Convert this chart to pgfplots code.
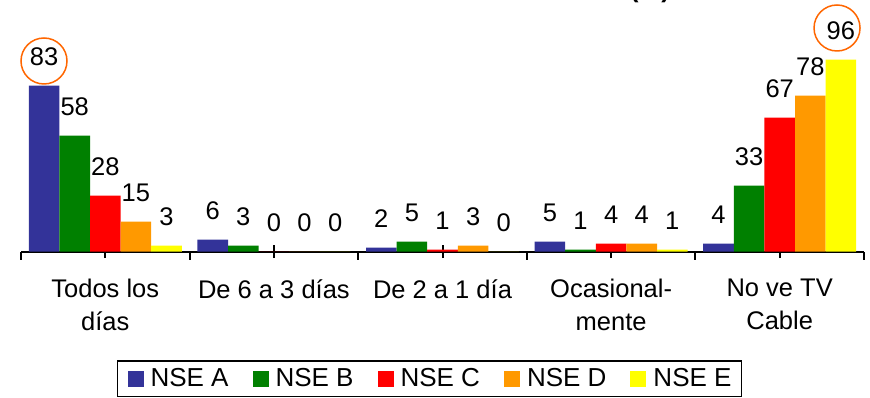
\documentclass[border=0pt]{standalone}
\usepackage{pgfplots}
\pgfplotsset{compat=1.18}
\usepackage{pgfplotstable}
\usepackage{fontspec}
\setmainfont{Liberation Sans}

\definecolor{nseA}{HTML}{333399}
\definecolor{nseB}{HTML}{008000}
\definecolor{nseC}{HTML}{FF0000}
\definecolor{nseD}{HTML}{FF9900}
\definecolor{nseE}{HTML}{FFFF00}
\definecolor{circ}{HTML}{FF6600}

\newcommand\fs{\fontsize{25.5}{33}\selectfont}

% frecuencia por NSE (%)
\pgfplotstableread{
g A  B  C  D  E
0 83 58 28 15 3
1 6  3  0  0  0
2 2  5  1  3  0
3 5  1  4  4  1
4 4  33 67 78 96
}\datos

\begin{document}
\begin{tikzpicture}
\useasboundingbox (-21pt,-146.3pt) rectangle (849pt,251.7pt);
\begin{axis}[
  at={(0pt,0pt)}, anchor=south west,
  scale only axis, width=843pt, height=240pt,
  xmin=-0.5, xmax=4.5, ymin=0, ymax=120,
  ybar=0pt, bar width=30.6pt,
  axis x line=bottom, axis y line=none,
  x axis line style={-, line width=2pt},
  ytick=\empty,
  xtick={0,...,4},
  xticklabels={{Todos los\\días},{De 6 a 3 días},{De 2 a 1 día},{Ocasional-\\mente},{No ve TV\\Cable}},
  xticklabel style={align=center, font=\fs, anchor=north, inner sep=0pt, yshift=-21pt},
  tick style={line width=2pt, black},
  tick align=center, major tick length=13pt,
  extra x ticks={-0.5,0.5,1.5,2.5,3.5,4.5},
  extra x tick labels={},
  extra x tick style={tick align=outside, major tick length=8pt},
  every node near coord/.append style={font=\fs, inner sep=0pt, yshift=19.5pt, black},
  /pgf/number format/assume math mode=true,
  clip=false,
  bars/.style={draw=none, nodes near coords},
  legend columns=5,
  legend style={at={(0.4846,-0.4513)}, anchor=north, draw=black, line width=1.5pt,
    font=\fontsize{26}{30}\selectfont, inner xsep=10pt, inner ysep=6pt,
    /tikz/every odd column/.append style={column sep=7pt},
    /tikz/every even column/.append style={column sep=24pt},
    nodes={inner xsep=0pt, inner ysep=2pt}},
  legend image code/.code={\fill[#1] (0pt,-8pt) rectangle (16pt,8pt);},
]
\addplot[bars, fill=nseA] table[x=g, y=A] {\datos};
\addplot[bars, fill=nseB] table[x=g, y=B] {\datos};
\addplot[bars, fill=nseC] table[x=g, y=C] {\datos};
\addplot[bars, fill=nseD] table[x=g, y=D] {\datos};
\addplot[bars, fill=nseE] table[x=g, y=E] {\datos};
\legend{NSE A, NSE B, NSE C, NSE D, NSE E}
% circulos de los maximos
\addplot[forget plot, sharp plot, draw=none, mark=o, mark size=23pt,
  mark options={draw=circ, line width=1.5pt, fill=none}]
  coordinates {(-0.3636,95.35) (4.34,111.85)};
\end{axis}
\node[anchor=base west, inner sep=0pt, font=\bfseries\fs] at (609pt,254.1pt) {(\%)};
\end{tikzpicture}
\end{document}
